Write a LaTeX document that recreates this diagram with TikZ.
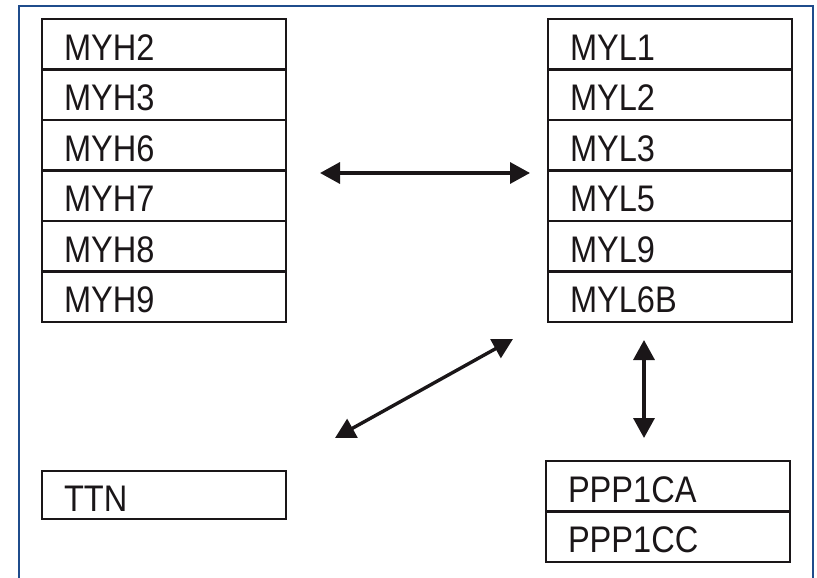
\documentclass[tikz,border=0pt]{standalone}
\usepackage{fontspec}
\newfontfamily\lab[FakeStretch=0.88]{Liberation Sans}
\usetikzlibrary{arrows.meta}
\definecolor{framblue}{RGB}{31,76,140}
\definecolor{ink}{RGB}{26,22,24}
\tikzset{
  rowbox/.style={draw=ink, line width=2.2pt, anchor=north west, outer sep=0pt,
    minimum height=50.5pt, text width=200pt, inner xsep=22pt, inner ysep=0pt,
    align=left, text height=32pt, text depth=0pt, text=ink,
    font=\lab\fontsize{37}{40}\selectfont},
  link/.style={line width=3.4pt, draw=ink, {Triangle[length=20pt,width=21pt]}-{Triangle[length=20pt,width=21pt]}},
}
\begin{document}
\begin{tikzpicture}[x=1pt,y=-1pt]
\useasboundingbox (0,0) rectangle (817,578);
\draw[framblue, line width=2.5pt] (19,578) -- (19,6) -- (813,6) -- (813,578);
% left stack
\node[rowbox] (h2) at (42,19) {MYH2};
\node[rowbox] (h3) at (42,69.5) {MYH3};
\node[rowbox] (h6) at (42,120) {MYH6};
\node[rowbox] (h7) at (42,170.5) {MYH7};
\node[rowbox] (h8) at (42,221) {MYH8};
\node[rowbox] (h9) at (42,271.5) {MYH9};
% right stack
\node[rowbox] (l1) at (548,19) {MYL1};
\node[rowbox] (l2) at (548,69.5) {MYL2};
\node[rowbox] (l3) at (548,120) {MYL3};
\node[rowbox] (l5) at (548,170.5) {MYL5};
\node[rowbox] (l9) at (548,221) {MYL9};
\node[rowbox] (l6b) at (548,271.5) {MYL6B};
% bottom
\node[rowbox, minimum height=48pt] (ttn) at (42,471) {TTN};
\node[rowbox] (pa) at (546,461) {PPP1CA};
\node[rowbox] (pc) at (546,511.5) {PPP1CC};
% connectors
\coordinate (a1s) at (320,173);
\coordinate (a1e) at (530,173);
\coordinate (a2s) at (335,438);
\coordinate (a2e) at (513,339);
\coordinate (a3s) at (644,340);
\coordinate (a3e) at (644,438);
\draw[link] (a1s) -- (a1e);
\draw[link] (a2s) -- (a2e);
\draw[link] (a3s) -- (a3e);
\end{tikzpicture}
\end{document}
